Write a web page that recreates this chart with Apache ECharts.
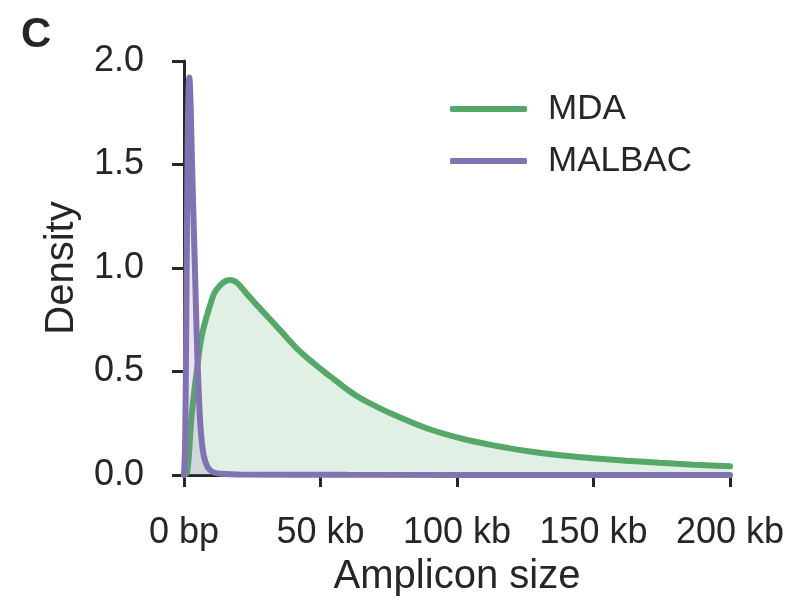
<!DOCTYPE html>
<html>
<head>
<meta charset="utf-8">
<script src="https://cdn.jsdelivr.net/npm/echarts@6/dist/echarts.min.js"></script>
<style>
  html, body { margin: 0; padding: 0; background: #fff; }
  #chart { width: 788px; height: 602px; }
</style>
</head>
<body>
<div id="chart"></div>
<script>
// amplicon size in kb, density
const mdaX = [0, 1.2, 2.8, 4.9, 6.7, 10.1, 12, 16.6, 19.3, 23, 29, 35.2, 41.3, 47.4, 53.5, 59.6, 64.5, 71.8, 76.7, 88.9, 101.1, 113.3, 125.5, 137.7, 149.9, 162.2, 174.4, 186.6, 200];
const mdaY = [0, 0.016, 0.29, 0.525, 0.684, 0.843, 0.897, 0.942, 0.93, 0.875, 0.788, 0.70, 0.612, 0.541, 0.477, 0.415, 0.372, 0.322, 0.292, 0.226, 0.178, 0.143, 0.116, 0.095, 0.081, 0.069, 0.059, 0.05, 0.042];

const malbacX = [0, 0.4, 0.73, 1.0, 1.3, 1.6, 1.95, 2.3, 2.6, 2.9, 3.4, 3.9, 4.4, 4.9, 5.4, 5.9, 6.6, 7.3, 8.4, 9.5, 11, 14, 20, 60, 200];
const malbacY = [0, 0.15, 0.57, 1.05, 1.53, 1.82, 1.92, 1.84, 1.7, 1.53, 1.28, 1.05, 0.8, 0.57, 0.4, 0.26, 0.15, 0.09, 0.045, 0.025, 0.012, 0.006, 0.003, 0.001, 0];

const xTicks = ["0 bp", "50 kb", "100 kb", "150 kb", "200 kb"];
const seriesNames = ["MDA", "MALBAC"];

const green = "#55a868";
const purple = "#8172b2";
const ink = "#262626";
const font = "'Liberation Sans', Arial, sans-serif";

const pairs = (xs, ys) => xs.map((x, i) => [x, ys[i]]);

const chart = echarts.init(document.getElementById("chart"));

chart.setOption({
  animation: false,
  backgroundColor: "#fff",
  textStyle: { fontFamily: font },
  title: {
    text: "C",
    left: 16,
    top: 9,
    textStyle: { fontSize: 42, fontWeight: "bold", color: ink, fontFamily: font },
  },
  legend: {
    orient: "vertical",
    left: 445,
    top: 84,
    itemWidth: 77,
    itemHeight: 6,
    itemGap: 12,
    icon: "roundRect",
    data: seriesNames,
    textStyle: {
      fontSize: 35,
      color: ink,
      lineHeight: 40,
      padding: [0, 0, 0, 16],
    },
  },
  grid: {
    left: 184,
    right: 58,
    top: 61,
    bottom: 122,
  },
  xAxis: {
    type: "value",
    min: 0,
    max: 200,
    interval: 50,
    name: "Amplicon size",
    nameLocation: "middle",
    nameGap: 82,
    nameTextStyle: { fontSize: 40, color: ink },
    splitLine: { show: false },
    axisLine: { lineStyle: { color: ink, width: 3 } },
    axisTick: { length: 12, lineStyle: { color: ink, width: 3 } },
    axisLabel: {
      fontSize: 36,
      color: ink,
      margin: 40,
      formatter: (v) => xTicks[Math.round(v / 50)],
    },
  },
  yAxis: {
    type: "value",
    min: 0,
    max: 2,
    interval: 0.5,
    name: "Density",
    nameLocation: "middle",
    nameGap: 102,
    nameTextStyle: { fontSize: 40, color: ink },
    splitLine: { show: false },
    axisLine: { show: true, lineStyle: { color: ink, width: 3 } },
    axisTick: { show: true, length: 12, lineStyle: { color: ink, width: 3 } },
    axisLabel: {
      fontSize: 36,
      color: ink,
      margin: 40,
      formatter: (v) => v.toFixed(1),
    },
  },
  series: [
    {
      name: seriesNames[0],
      type: "line",
      data: pairs(mdaX, mdaY),
      showSymbol: false,
      symbol: "none",
      smooth: 0.4,
      color: green,
      lineStyle: { color: green, width: 6, cap: "round" },
      areaStyle: { color: "rgba(85,168,104,0.25)" },
      z: 2,
    },
    {
      name: seriesNames[1],
      type: "line",
      data: pairs(malbacX, malbacY),
      showSymbol: false,
      symbol: "none",
      smooth: 0.4,
      color: purple,
      lineStyle: { color: purple, width: 6, cap: "round" },
      areaStyle: { color: "rgba(129,114,178,0.25)" },
      z: 3,
    },
  ],
});
</script>
</body>
</html>
